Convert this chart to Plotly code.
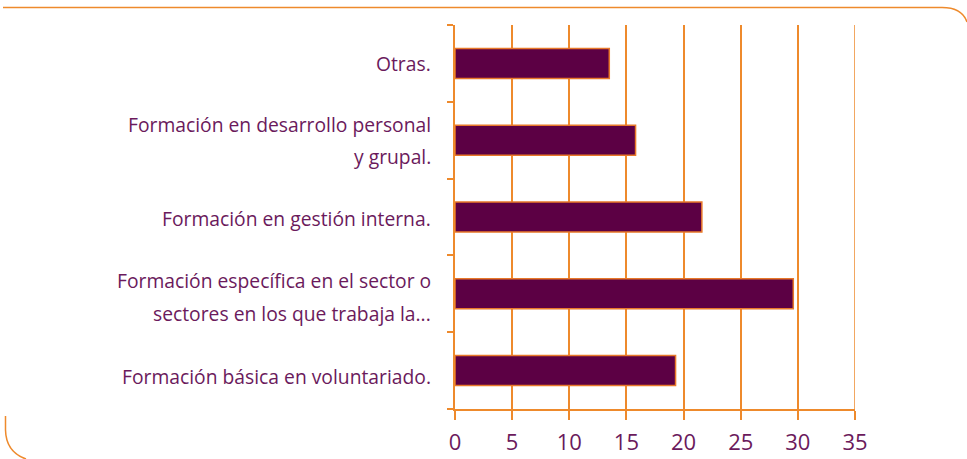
import plotly.graph_objects as go

# Training categories (bottom to top) and their shares
categories = [
    "Formación básica en voluntariado.",
    "Formación específica en el sector o<br>sectores en los que trabaja la...",
    "Formación en gestión interna.",
    "Formación en desarrollo personal<br>y grupal.",
    "Otras.",
]
values = [19.3, 29.6, 21.6, 15.8, 13.5]
x_ticks = [0, 5, 10, 15, 20, 25, 30, 35]

# Vertical pixel offsets of each label line relative to its bar centre
label_shifts = [[-6], [13, -20], [-1], [16, -16], [0]]

W, H = 967, 459
L, R, T, B = 455, 112, 25, 50
PW, PH = W - L - R, H - T - B

ORANGE = "#ee8a2c"
BAR = "#5c0044"
TEXT = "#6b1a5c"
FONT = "Open Sans"


def px(x):
    return (x - L) / PW


def py(y):
    return 1 - (y - T) / PH


fig = go.Figure()
fig.add_trace(go.Bar(
    y=list(range(len(categories))),
    x=values,
    orientation="h",
    width=0.39,
    marker=dict(color=BAR, line=dict(color="#e8782a", width=1.5)),
    hoverinfo="x",
))

# Category labels, one annotation per text line for wide line spacing
annotations = []
for i, lab in enumerate(categories):
    for line, shift in zip(lab.split("<br>"), label_shifts[i]):
        annotations.append(dict(
            x=px(433), xref="paper", y=i, yref="y",
            text=line, showarrow=False, xanchor="right", yanchor="middle",
            yshift=shift, font=dict(family=FONT, size=19.3, color=TEXT),
        ))

# Rounded frame fragments
shapes = [
    dict(type="path", xref="paper", yref="paper",
         path=f"M {px(3)} {py(7.5)} L {px(942)} {py(7.5)} Q {px(962)} {py(7.5)} {px(967)} {py(22)}",
         line=dict(color=ORANGE, width=1.5)),
    dict(type="path", xref="paper", yref="paper",
         path=f"M {px(5.5)} {py(416)} L {px(5.5)} {py(430)} Q {px(6)} {py(452)} {px(26)} {py(459)}",
         line=dict(color=ORANGE, width=1.5)),
    # gridline at the right end of the range
    dict(type="line", xref="x", yref="paper", x0=35, x1=35, y0=0, y1=1,
         line=dict(color=ORANGE, width=1.5), layer="below"),
]

fig.update_layout(
    width=W, height=H,
    margin=dict(l=L, r=R, t=T, b=B, autoexpand=False),
    paper_bgcolor="white", plot_bgcolor="white",
    showlegend=False,
    bargap=0.6,
    annotations=annotations,
    shapes=shapes,
    xaxis=dict(
        range=[0, 35], tickvals=x_ticks, ticktext=[str(v) for v in x_ticks],
        automargin=False,
        showgrid=True, gridcolor=ORANGE, gridwidth=1.5,
        showline=True, linecolor=ORANGE, linewidth=1.5,
        ticks="outside", ticklen=9, tickcolor=ORANGE, tickwidth=1.5,
        ticklabelstandoff=4,
        tickfont=dict(family=FONT, size=22, color=TEXT),
        zeroline=False, fixedrange=True,
    ),
    yaxis=dict(
        type="category",
        range=[-0.5, len(categories) - 0.5],
        tickvals=list(range(len(categories))),
        showticklabels=False,
        automargin=False,
        tickson="boundaries",
        ticks="outside", ticklen=6, tickcolor=ORANGE, tickwidth=1.5,
        showline=True, linecolor=ORANGE, linewidth=1.5,
        showgrid=False, zeroline=False, fixedrange=True,
    ),
)

fig.write_html("out.html")
